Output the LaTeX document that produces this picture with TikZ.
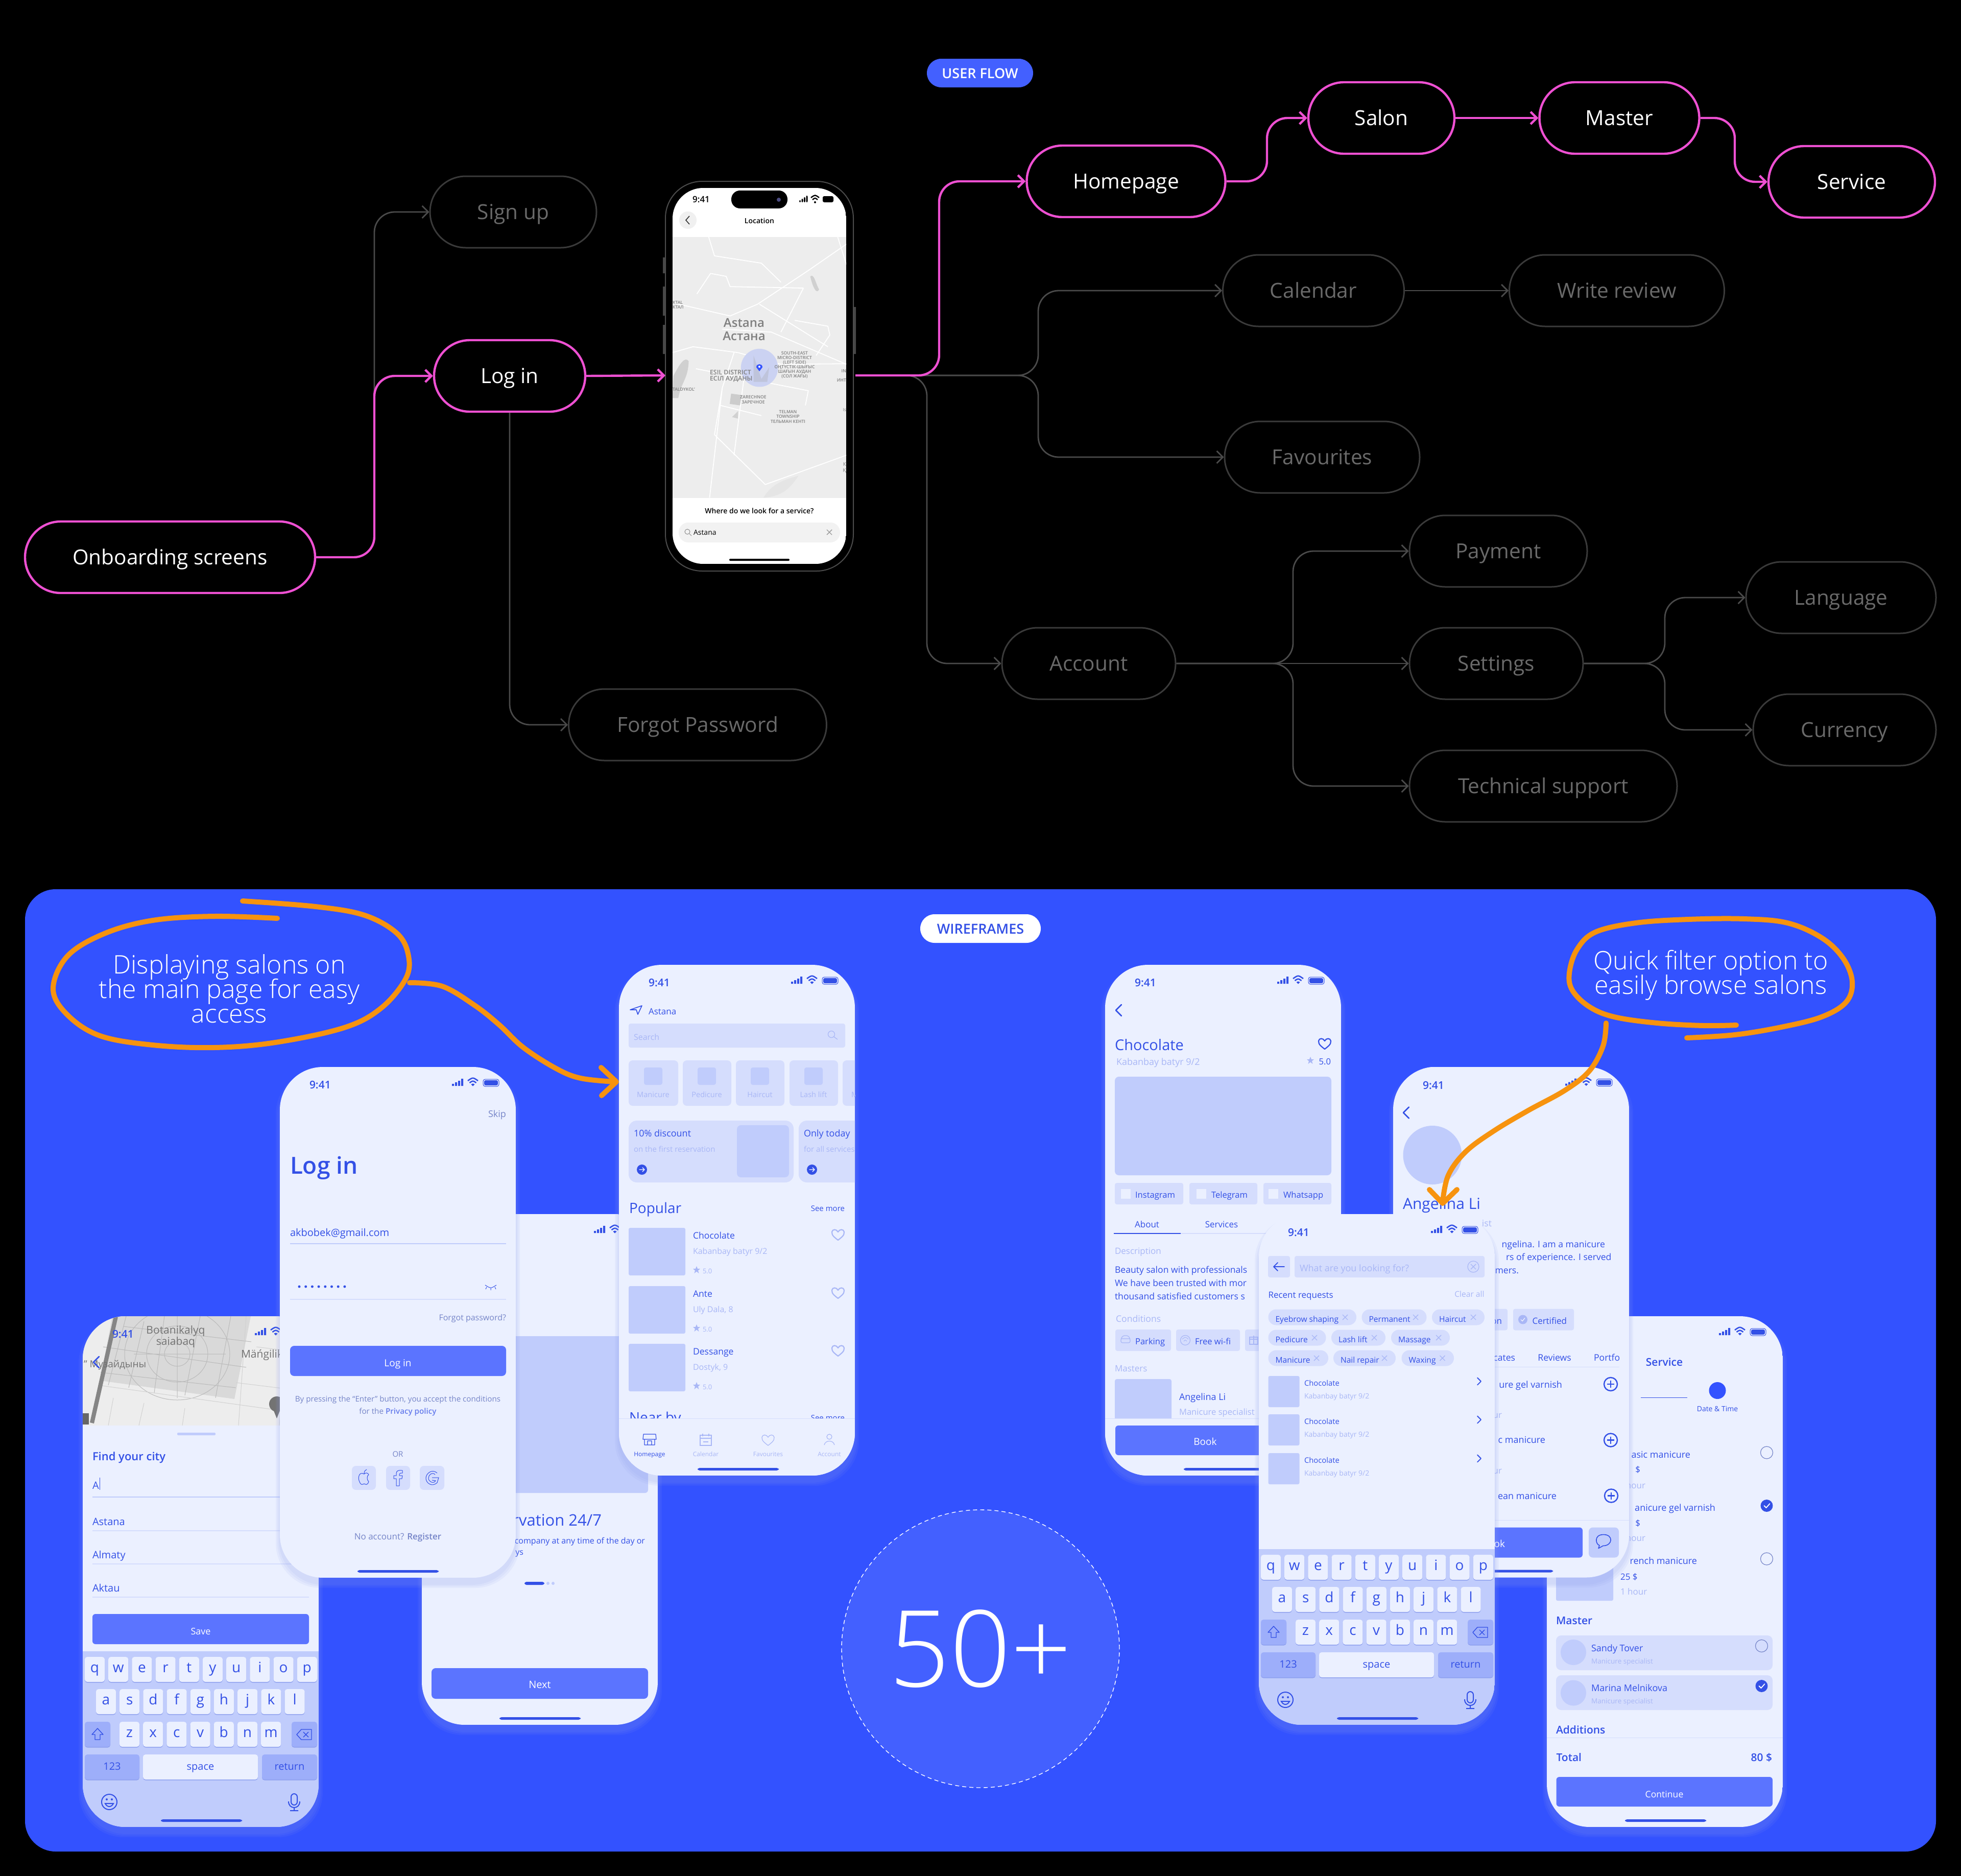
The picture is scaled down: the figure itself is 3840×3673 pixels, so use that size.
\documentclass[tikz,border=0pt]{standalone}
\usepackage{fontspec}
\setmainfont{Open Sans}[BoldFont={Open Sans Semibold}]
\newfontfamily\lightf{Open Sans Light}
\newfontfamily\medf{Open Sans}
\usetikzlibrary{arrows.meta}
\definecolor{panel}{HTML}{3352FF}
\definecolor{scr}{HTML}{EBF0FF}
\definecolor{chipc}{HTML}{D5DDFD}
\definecolor{thumbc}{HTML}{C0CCFC}
\definecolor{btn}{HTML}{5B74FF}
\definecolor{ink}{HTML}{3350E6}
\definecolor{dimc}{HTML}{A9B7F6}
\definecolor{graytxt}{HTML}{7685C8}
\definecolor{pinkline}{HTML}{EE50D2}
\definecolor{grayline}{HTML}{4A4A4A}
\definecolor{graynode}{HTML}{3A3A3A}
\definecolor{graytext}{HTML}{6A6A6A}
\definecolor{ornge}{HTML}{F7930E}
\definecolor{keydark}{HTML}{9DAEFA}
\definecolor{keyedge}{HTML}{8C9EEE}
\definecolor{maptxt}{HTML}{808080}
\definecolor{mapring}{HTML}{CBD2F2}
\definecolor{mapwater}{HTML}{D0D0D0}
\tikzset{
 flowbase/.style={rectangle,rounded corners=35pt,minimum height=70pt,inner sep=0pt,text height=14.5pt,text depth=0pt,font=\medf\fontsize{20.3}{24}\selectfont},
 pinknode/.style={flowbase,draw=pinkline,line width=2.2pt,text=white,minimum width=#1*0.5pt},
 graybox/.style={flowbase,draw=graynode,line width=1.5pt,text=graytext,minimum width=#1*0.5pt},
 pinkarrow/.style={draw=pinkline,line width=2.2pt,rounded corners=20pt,-{Straight Barb[length=6pt,width=12pt,line width=2.2pt]}},
 grayarrow/.style={draw=grayline,line width=1.4pt,rounded corners=20pt,-{Straight Barb[length=6pt,width=12pt,line width=1.4pt]}},
 pencil/.style={draw=ornge,line width=5pt,line cap=round,line join=round},
}
\newcounter{nn}
\newcommand\lab[6][mid west]{\stepcounter{nn}\node[anchor=#1,inner sep=0pt,outer sep=0pt,text=#5] (n\arabic{nn}) at (#2,#3+#4) {\fontsize{#4}{#4}\selectfont #6};}
\newcommand\scropen[2]{\begin{scope}[shift={(#1,#2)}]
 \foreach \s in {8,5,2}{\fill[color=keyedge,opacity=.09,rounded corners=44pt] (-\s,-\s+12) rectangle (462+\s,1000+\s+12);}
 \begin{scope}\clip[rounded corners=42pt] (0,0) rectangle (462,1000);
 \fill[scr] (0,0) rectangle (462,1000);}
\newcommand\scrclose{\end{scope}\end{scope}}
\newcommand\homebar[1][153]{\fill[ink,rounded corners=2pt] (#1,985) rectangle (#1+159,990);}
\newcommand\sbar[1][ink]{%
 \fill[#1] (337,33) rectangle (341,37) (343,30) rectangle (347,37) (349,27) rectangle (353,37) (355,23) rectangle (359,37);
 \draw[#1,line width=1.3pt] (368,27) .. controls (378,20) .. (388,27) (371.5,31) .. controls (378,26.5) .. (384.5,31);
 \fill[#1] (378,37.5) -- (374.5,34) .. controls (378,32) .. (381.5,34) -- cycle;
 \draw[#1,line width=.5pt,rounded corners=2pt] (398,24) rectangle (429,38);
 \fill[#1,rounded corners=1.5pt] (400,26) rectangle (427,36);
}
\newcommand\timelab[1][]{\lab[mid west]{58}{27}{10.5}{ink}{\bfseries 9:41}}
\newcommand\chevl[3]{\draw[#3,line width=1.3pt,line cap=round,line join=round] (#1+6,#2-11) -- (#1-5,#2) -- (#1+6,#2+11);}
\newcommand\chevr[3]{\draw[#3,line width=.9pt,line cap=round,line join=round] (#1-3,#2-7) -- (#1+4,#2) -- (#1-3,#2+7);}
\newcommand\hearticon[4][1.1pt]{\begin{scope}[shift={(#2,#3)}]\draw[#4,line width=#1,line join=round] (0,11) .. controls (-5,7) and (-13,2) .. (-12,-5) .. controls (-11,-11) and (-3,-11) .. (0,-5) .. controls (3,-11) and (11,-11) .. (12,-5) .. controls (13,2) and (5,7) .. (0,11) -- cycle;\end{scope}}
\newcommand\staricon[3]{\begin{scope}[shift={(#1,#2)}]\fill[#3] (0,-7)--(2,-2)--(7,-2)--(3,1.5)--(4.5,7)--(0,3.5)--(-4.5,7)--(-3,1.5)--(-7,-2)--(-2,-2)--cycle;\end{scope}}
\newcommand\xicon[3]{\draw[#3,line width=.7pt] (#1-5,#2-5) -- (#1+5,#2+5) (#1-5,#2+5) -- (#1+5,#2-5);}
\newcommand\pluscirc[2]{\draw[ink,line width=1.2pt] (#1,#2) circle[radius=13]; \draw[ink,line width=1.2pt] (#1-7,#2) -- (#1+7,#2) (#1,#2-7) -- (#1,#2+7);}
\newcommand\radio[2]{\draw[graytxt,line width=.6pt] (#1,#2) circle[radius=12];}
\newcommand\radiock[2]{\fill[ink] (#1,#2) circle[radius=12]; \draw[white,line width=.9pt,line cap=round,line join=round] (#1-5,#2) -- (#1-1,#2+4) -- (#1+6,#2-4);}
\newcommand\arrowcirc[2]{\fill[ink] (#1,#2) circle[radius=10]; \draw[white,line width=.6pt,line cap=round,line join=round] (#1-5,#2) -- (#1+5,#2) (#1+1,#2-4) -- (#1+5,#2) -- (#1+1,#2+4);}
\newcommand\kbkey[6]{\fill[keyedge,rounded corners=2.5pt] (#1,#2+1.5) rectangle (#1+#3,#2+50.5);
 \fill[#4,rounded corners=2.5pt] (#1,#2) rectangle (#1+#3,#2+49);
 \lab[mid]{#1+#3/2}{#2+#5}{#6}}
\newcommand\kb{%
 \fill[thumbc] (0,656) rectangle (462,1000);
 \foreach \k [count=\i from 0] in {q,w,e,r,t,y,u,i,o,p}{\pgfmathsetmacro\xx{4+46.2*\i}\kbkey{\xx}{667}{39}{scr}{11}{14}{ink}{\k}}
 \foreach \k [count=\i from 0] in {a,s,d,f,g,h,j,k,l}{\pgfmathsetmacro\xx{26+46.2*\i}\kbkey{\xx}{730}{39}{scr}{11}{14}{ink}{\k}}
 \foreach \k [count=\i from 0] in {z,x,c,v,b,n,m}{\pgfmathsetmacro\xx{72+46.2*\i}\kbkey{\xx}{794}{39}{scr}{11}{14}{ink}{\k}}
 \fill[keyedge,rounded corners=2.5pt] (4,795.5) rectangle (54,844.5); \fill[keydark,rounded corners=2.5pt] (4,794) rectangle (54,843);
 \draw[ink,line width=.7pt,line join=round] (29,807) -- (18,819) -- (24,819) -- (24,829) -- (34,829) -- (34,819) -- (40,819) -- cycle;
 \fill[keyedge,rounded corners=2.5pt] (409,795.5) rectangle (459,844.5); \fill[keydark,rounded corners=2.5pt] (409,794) rectangle (459,843);
 \draw[ink,line width=.7pt,line join=round] (419,819) -- (428,809) -- (448,809) -- (448,829) -- (428,829) -- cycle (432,814) -- (442,824) (442,814) -- (432,824);
 \kbkey{4}{858}{107}{keydark}{15}{10}{ink}{123}
 \kbkey{118}{858}{225}{scr}{15}{10}{ink}{space}
 \kbkey{351}{858}{108}{keydark}{15}{10}{ink}{return}
 \draw[ink,line width=1pt] (52,951) circle[radius=15];
 \fill[ink] (47,946) circle[radius=2] (57,946) circle[radius=2];
 \draw[ink,line width=1pt] (44,954) .. controls (48,962) and (56,962) .. (60,954) -- cycle;
 \draw[ink,line width=1pt,rounded corners=3pt] (408,935) rectangle (420,957);
 \draw[ink,line width=1pt] (403,950) .. controls (403,966) and (425,966) .. (425,950) (414,961) -- (414,968) (406,968) -- (422,968);
 \homebar
}
\begin{document}
\begin{tikzpicture}[x=0.5pt,y=-0.5pt]
\useasboundingbox (0,0) rectangle (3840,3673);
\fill[black] (0,0) rectangle (3840,3673);

%% ---------- USER FLOW ----------
\node[fill=panel!92!white,rounded corners=14pt,minimum width=104pt,minimum height=28pt,inner sep=0pt,text=white,text height=10pt,text depth=0pt,font=\fontsize{13.5}{14}\selectfont\bfseries] (userflow) at (1919,143) {USER FLOW};

\node[pinknode=568] (onb) at (333,1091) {Onboarding screens};
\node[pinknode=296] (login) at (998,736) {Log in};
\node[graybox=326] (signup) at (1005,415) {Sign up};
\node[graybox=505] (forgot) at (1366,1419) {Forgot Password};
\node[pinknode=389] (home) at (2205,355) {Homepage};
\node[pinknode=286] (salon) at (2705,231) {Salon};
\node[pinknode=313] (master) at (3171,231) {Master};
\node[pinknode=326] (service) at (3626,356) {Service};
\node[graybox=355] (calendar) at (2572,569) {Calendar};
\node[graybox=421] (write) at (3166,569) {Write review};
\node[graybox=382] (fav) at (2589,895) {Favourites};
\node[graybox=340] (account) at (2132,1299) {Account};
\node[graybox=348] (payment) at (2934,1079) {Payment};
\node[graybox=340] (settings) at (2930,1299) {Settings};
\node[graybox=524] (tech) at (3022,1539) {Technical support};
\node[graybox=372] (lang) at (3605,1170) {Language};
\node[graybox=358] (cur) at (3612,1429) {Currency};

%% phone
\coordinate (phoneW) at (1303,735);
\coordinate (phoneE) at (1675,735);
\fill[color=black!72!white] (1298,504) rectangle (1304,535) (1298,561) rectangle (1304,618) (1298,636) rectangle (1304,693) (1670,601) rectangle (1676,693);
\fill[black,draw=black!70!white,line width=1pt,rounded corners=36pt] (1303,355) rectangle (1671,1118);
\begin{scope}
 \clip[rounded corners=30pt] (1317,368) rectangle (1657,1104);
 \fill[white] (1317,368) rectangle (1657,1104);
 \fill[color=black!7!white] (1317,464) rectangle (1657,975);
 \begin{scope}[shift={(1200,300)},x=0.1914pt,y=-0.287pt]
  \draw[white,line width=.9pt,line join=round]
   (305,510)--(600,555)--(740,515)--(1000,400)--(1195,310)
   (490,285)--(520,350)--(760,375)--(860,440)
   (305,680)--(410,660)--(640,680)--(860,720)--(1195,718)
   (560,600)--(810,610)--(1195,720)
   (750,515)--(1100,660)
   (495,1175)--(560,800)--(620,680)
   (520,960)--(780,1130)--(1195,1030)
   (620,1030)--(680,720)
   (430,480)--(500,410)--(580,420)--(600,455)--(975,460)
   (425,735)--(1000,810)--(985,860)
   (550,860)--(760,895)
   (1150,285)--(1195,380)
   (520,960)--(560,800)
   (930,570)--(1100,590)--(1110,620)--(1040,690)
   (975,460)--(860,610);
  \fill[mapwater] (310,760) .. controls (340,720) and (370,690) .. (388,710) .. controls (385,770) and (350,780) .. (335,835) -- (305,835) -- cycle;
  \fill[mapwater] (1010,420) .. controls (1030,410) and (1035,440) .. (1055,465) .. controls (1040,485) and (1020,450) .. (1010,420) -- cycle;
  \fill[color=black!20!white] (605,820) -- (660,825) -- (650,860) -- (598,855) -- cycle;
  \fill[color=black!18!white] (610,900) -- (640,880) -- (640,905) -- cycle;
  \fill[color=black!10!white] (770,1175) .. controls (820,1120) and (900,1110) .. (950,1100) .. controls (900,1150) and (860,1170) .. (770,1175) -- cycle;
  \fill[mapring] (750,732) circle[x radius=95,y radius=65];
  \fill[color=black!35!white,opacity=.3] (720,690) -- (760,770) -- (800,730) -- (790,780) -- (720,780) -- cycle;
 \end{scope}
 \fill[panel] (1487,727) -- (1481,719) .. controls (1481,711) and (1493,711) .. (1493,719) -- cycle;
 \fill[white] (1487,718) circle[radius=2];
 \lab[mid]{1457}{623}{12}{maptxt}{\bfseries Astana}
 \lab[mid]{1457}{649}{12}{maptxt}{\bfseries Астана}
 \lab{1390}{722}{6.2}{maptxt}{\bfseries ESIL DISTRICT}
 \lab{1390}{733.5}{6.2}{maptxt}{\bfseries ЕСІЛ АУДАНЫ}
 \lab[mid]{1556}{685}{4.3}{maptxt}{\bfseries SOUTH-EAST}
 \lab[mid]{1556}{694}{4.3}{maptxt}{\bfseries MICRO-DISTRICT}
 \lab[mid]{1556}{703}{4.3}{maptxt}{\bfseries (LEFT SIDE)}
 \lab[mid]{1556}{712}{4.3}{maptxt}{\bfseries ОҢТҮСТІК-ШЫҒЫС}
 \lab[mid]{1556}{721}{4.3}{maptxt}{\bfseries ШАҒЫН АУДАН}
 \lab[mid]{1556}{730}{4.3}{maptxt}{\bfseries (СОЛ ЖАҒЫ)}
 \lab[mid]{1475}{771}{4.3}{maptxt}{\bfseries ZARECHNOE}
 \lab[mid]{1475}{780.5}{4.3}{maptxt}{\bfseries ЗАРЕЧНОЕ}
 \lab[mid]{1543}{800}{4.3}{maptxt}{\bfseries TELMAN}
 \lab[mid]{1543}{809}{4.3}{maptxt}{\bfseries TOWNSHIP}
 \lab[mid]{1543}{818.5}{4.3}{maptxt}{\bfseries ТЕЛЬМАН КЕНТІ}
 \lab{1317}{586}{4.3}{maptxt}{\bfseries KTAL}
 \lab{1317}{595}{4.3}{maptxt}{\bfseries КТАЛ}
 \lab{1317}{756}{4.3}{maptxt}{\bfseries TALDYKOL'}
 \lab[mid east]{1657}{720}{4.3}{maptxt}{\bfseries IN}
 \lab[mid east]{1657}{738}{4.3}{maptxt}{\bfseries ИНТ}
 \lab[mid east]{1657}{796}{4.3}{maptxt}{Is}
 \lab[mid east]{1657}{902}{5}{maptxt}{К}
 \lab[mid east]{1657}{914}{5}{maptxt}{Қ}
 \fill[black,rounded corners=8.5pt] (1432,373) rectangle (1542,408);
 \fill[color=black!70!blue!70!white] (1525,391) circle[radius=4];
 \fill[black,rounded corners=1pt] (1565,392) rectangle (1568,396) (1569.5,389) rectangle (1572.5,396) (1574,386) rectangle (1577,396) (1578.5,383) rectangle (1581.5,396);
 \draw[black,line width=1.2pt] (1588,387) .. controls (1596,381) .. (1604,387) (1591,391) .. controls (1596,387) .. (1601,391);
 \fill[black] (1596,396) circle[radius=2];
 \fill[black,rounded corners=1.5pt] (1611,384) rectangle (1632,396);
 \lab[mid]{1373}{383}{8.5}{black}{\bfseries 9:41}
 \fill[color=black!6!white] (1347,431) circle[radius=17];
 \draw[black!80!white,line width=.8pt] (1350,423) -- (1343,431) -- (1350,439);
 \lab[mid]{1487}{425}{7}{black}{\bfseries Location}
 \lab[mid]{1487}{993}{7}{black}{\bfseries Where do we look for a service?}
 \fill[color=black!5!white,rounded corners=9.5pt] (1329,1023) rectangle (1645,1062);
 \draw[color=black!45!white,line width=.5pt] (1346,1041) circle[radius=5] (1350,1045) -- (1354,1049);
 \lab{1358}{1035}{7}{black}{Astana}
 \xicon{1624}{1042}{black!40!white}
 \fill[black,rounded corners=1pt] (1428,1094) rectangle (1546,1098);
\end{scope}

%% connectors gray first
\coordinate (bA) at (733,0);
\coordinate (bB) at (1815,0);
\coordinate (bC) at (2033,0);
\coordinate (bD) at (2532,0);
\coordinate (bE) at (3260,0);
\coordinate (bF) at (1839,0);
\coordinate (bG) at (2481,0);
\coordinate (bH) at (3397,0);
\draw[grayarrow] (onb.east) -| (bA|-signup) -- (signup.west);
\draw[grayarrow] (login.south) |- (forgot.west);
\draw[grayarrow] (phoneE) -| (bC|-calendar) -- (calendar.west);
\draw[grayarrow] (phoneE) -| (bC|-fav) -- (fav.west);
\draw[grayarrow] (phoneE) -| (bB|-account) -- (account.west);
\draw[grayarrow] (calendar.east) -- (write.west);
\draw[grayarrow] (account.east) -| (bD|-payment) -- (payment.west);
\draw[grayarrow] (account.east) -- (settings.west);
\draw[grayarrow] (account.east) -| (bD|-tech) -- (tech.west);
\draw[grayarrow] (settings.east) -| (bE|-lang) -- (lang.west);
\draw[grayarrow] (settings.east) -| (bE|-cur) -- (cur.west);
%% pink
\draw[pinkarrow] (onb.east) -| (bA|-login) -- (login.west);
\draw[pinkarrow] (login.east) -- (phoneW);
\draw[pinkarrow] (phoneE) -| (bF|-home) -- (home.west);
\draw[pinkarrow] (home.east) -| (bG|-salon) -- (salon.west);
\draw[pinkarrow] (salon.east) -- (master.west);
\draw[pinkarrow] (master.east) -| (bH|-service) -- (service.west);

%% ---------- WIREFRAMES ----------
\fill[panel,rounded corners=30pt] (49,1741) rectangle (3791,3625);
\node[fill=white,rounded corners=14pt,minimum width=118pt,minimum height=28pt,inner sep=0pt,text=ink,text height=10pt,text depth=0pt,font=\fontsize{13.5}{14}\selectfont\bfseries] (wire) at (1920,1818) {WIREFRAMES};

%% city screen
\scropen{162}{2577}
 \begin{scope}
  \clip (0,0) rectangle (462,214);
  \fill[color=black!7!white] (0,0) rectangle (462,214);
  \fill[color=black!15!white] (58,0) -- (329,0) -- (297,162) -- (34,126) -- cycle;
  \draw[color=black!27!white,line width=.5pt] (185,74) circle[x radius=103,y radius=90] (185,74) circle[x radius=60,y radius=55] (185,74) circle[x radius=25,y radius=24];
  \draw[color=black!27!white,line width=.5pt] (85,0) -- (50,135) (120,10) -- (90,140) (160,0) -- (140,150) (230,0) -- (200,155) (290,0) -- (260,160) (40,60) -- (320,100) (35,110) -- (300,140) (80,20) -- (330,50) (100,74) -- (280,74) (185,-10) -- (185,160);
  \draw[color=black!18!white,line width=.5pt] (30,135) -- (462,195) (60,160) -- (50,214) (120,170) -- (110,214) (200,180) -- (195,214) (320,0) -- (305,214) (340,60) -- (462,75) (400,0) -- (385,214) (300,130) -- (462,150);
  \fill[color=black!48!white] (62,-5) -- (70,-3) -- (22,210) -- (14,208) -- cycle;
  \fill[color=black!55!white] (380,172) circle[radius=15];
  \fill[color=black!55!white] (372,180) -- (388,180) -- (380,200) -- cycle;
  \fill[color=black!60!white] (0,190) rectangle (12,212);
 \end{scope}
 \lab[mid]{182}{19}{10.5}{black!55!white}{Botanikalyq}
 \lab[mid]{182}{41}{10.5}{black!55!white}{saiabaq}
 \lab{310}{66}{10.5}{black!55!white}{Mäńgilik}
 \lab{2}{86}{9.5}{black!55!white}{" Музайдыны}
 \chevl{26}{90}{ink}
 \timelab \sbar
 \fill[scr] (0,214) rectangle (462,660);
 \fill[thumbc,rounded corners=1pt] (185,228) rectangle (260,233);
 \lab{19}{266}{11}{ink}{\bfseries Find your city}
 \lab{19}{323}{10}{ink}{A}
 \draw[ink,line width=.5pt] (33,316) -- (33,340);
 \draw[thumbc,line width=1pt] (19,354) -- (443,354);
 \lab{19}{394}{10}{ink}{Astana}
 \draw[chipc,line width=1pt] (19,420) -- (443,420);
 \lab{19}{459}{10}{ink}{Almaty}
 \draw[chipc,line width=1pt] (19,485) -- (443,485);
 \lab{19}{524}{10}{ink}{Aktau}
 \draw[chipc,line width=1pt] (19,550) -- (443,550);
 \fill[btn,rounded corners=3pt] (19,583) rectangle (443,642);
 \lab[mid]{231}{609}{9}{white}{Save}
 \kb
\scrclose

%% onboarding screen
\scropen{826}{2377}
 \sbar
 \fill[thumbc,rounded corners=3pt] (19,239) rectangle (443,546);
 \lab[mid east]{352}{590}{15.5}{ink}{Reservation 24/7}
 \lab[mid east]{437}{632}{8}{ink}{company at any time of the day or}
 \lab[mid east]{199}{654}{8}{ink}{ys}
 \fill[ink,rounded corners=2pt] (201,720) rectangle (240,726);
 \fill[thumbc] (247,723) circle[radius=3] (257,723) circle[radius=3];
 \fill[btn,rounded corners=4pt] (19,889) rectangle (443,949);
 \lab[mid]{231}{913}{10}{white}{Next}
 \homebar[152]
\scrclose

%% login screen
\scropen{548}{2089}
 \timelab \sbar
 \lab[mid east]{443}{84}{9}{graytxt}{Skip}
 \lab{20}{181.5}{23}{ink}{\bfseries Log in}
 \lab{20}{316}{10}{ink}{akbobek@gmail.com}
 \draw[thumbc,line width=1pt] (20,346) -- (443,346);
 \foreach \i in {0,...,7}{\fill[ink] (38+12.7*\i,430) circle[radius=2.5];}
 \draw[ink,line width=.5pt] (402,427) .. controls (413,434) .. (424,427) (405,431) -- (403,435) (413,433) -- (413,437) (421,431) -- (423,435);
 \draw[chipc,line width=1pt] (20,455) -- (443,455);
 \lab[mid east]{443}{483}{8}{graytxt}{Forgot password?}
 \fill[btn,rounded corners=4pt] (20,546) rectangle (443,605);
 \lab[mid]{231}{572}{9.5}{white}{Log in}
 \lab[mid]{231}{643}{7.6}{graytxt}{By pressing the “Enter” button, you accept the conditions}
 \lab[mid]{231}{667}{7.6}{graytxt}{for the {\bfseries\color{ink!75!white}Privacy policy}}
 \lab[mid]{231}{751}{7.5}{graytxt}{OR}
 \fill[chipc,rounded corners=4pt] (141,781) rectangle (188,828) (208,781) rectangle (255,828) (274,781) rectangle (322,828);
 \draw[ink,line width=.5pt,line join=round] (165,797) .. controls (155,791) and (152,805) .. (156,812) .. controls (159,820) and (162,817) .. (165,816) .. controls (168,817) and (171,820) .. (174,812) .. controls (170,808) and (170,801) .. (174,798) .. controls (171,793) and (167,795) .. (165,797) -- cycle (165,796) .. controls (165,792) and (167,789) .. (170,788);
 \draw[ink,line width=.5pt,line join=round] (228,820) -- (228,806) -- (223,806) -- (223,800) -- (228,800) -- (228,796) .. controls (228,790) and (233,789) .. (240,790) -- (240,795) .. controls (236,795) and (234,795) .. (234,798) -- (234,800) -- (240,800) -- (239,806) -- (234,806) -- (234,820) -- cycle;
 \draw[ink,line width=.5pt] (308,795) .. controls (298,786) and (286,796) .. (286,805) .. controls (286,815) and (298,823) .. (308,814) -- (311,804) -- (298,804) (304,798) .. controls (298,792) and (291,799) .. (291,805) .. controls (291,812) and (301,817) .. (305,810) -- (298,809);
 \lab[mid]{231}{912}{8.5}{graytxt}{No account? {\bfseries Register}}
 \homebar[152]
\scrclose

%% homepage screen
\scropen{1212}{1889}
 \timelab \sbar
 \draw[ink,line width=.8pt,line join=round] (22,88) -- (45,80) -- (37,97) -- (34,88) -- cycle;
 \lab{58}{84}{8.5}{ink}{Astana}
 \fill[chipc,rounded corners=2pt] (19,115) rectangle (443,162);
 \lab{29}{134}{8}{dimc}{Search}
 \draw[dimc,line width=.6pt] (416,136) circle[radius=6.5] (421,141) -- (428,146);
 \foreach \a/\b/\c/\t in {19/116/67/Manicure,125/220/172/Pedicure,229/324/276/Haircut,334/429/381/Lash lift,438/535/485/Massage}{
  \fill[chipc,rounded corners=4pt] (\a,187) rectangle (\b,276);
  \fill[thumbc,rounded corners=2pt] (\c-18,201) rectangle (\c+18,235);
  \lab[mid]{\c}{247}{7.3}{dimc}{\t}}
 \fill[chipc,rounded corners=8pt] (19,305) rectangle (342,426);
 \fill[thumbc,rounded corners=4pt] (231,314) rectangle (333,416);
 \lab{29}{322}{9}{ink}{10\% discount}
 \lab{29}{354}{7.5}{dimc}{on the first reservation}
 \arrowcirc{45}{401}
 \fill[chipc,rounded corners=8pt] (352,305) rectangle (560,426);
 \lab{362}{322}{9}{ink}{Only today}
 \lab{362}{354}{7.5}{dimc}{for all services}
 \arrowcirc{378}{401}
 \lab{20}{467}{14}{ink}{Popular}
 \lab[mid east]{442}{470}{7.5}{ink}{See more}
 \foreach \y/\n/\ad in {515/Chocolate/Kabanbay batyr 9\slash 2,629/Ante/{Uly Dala, 8},742/Dessange/{Dostyk, 9}}{
  \fill[thumbc,rounded corners=1.5pt] (19,\y) rectangle (130,\y+93);
  \lab{145}{\y+7.5}{8.8}{ink}{\n}
  \lab{145}{\y+38}{8}{dimc}{\ad}
  \staricon{152}{\y+82}{dimc}
  \lab{164}{\y+78}{6.5}{dimc}{5.0}
  \hearticon{429}{\y+13}{dimc}}
 \lab{20}{877}{14}{ink}{Near by}
 \lab[mid east]{442}{880}{7.5}{ink}{See more}
 \fill[scr] (0,888) rectangle (462,1000);
 \draw[chipc,line width=.5pt] (0,888) -- (462,888);
 \draw[ink,line width=.6pt,line join=round] (48,919) -- (72,919) -- (73,929) -- (47,929) -- cycle (50,929) -- (50,940) -- (70,940) -- (70,929) (56,940) -- (56,932) -- (64,932) -- (64,940);
 \lab[mid]{60}{951}{6}{ink}{Homepage}
 \draw[dimc,line width=.6pt] (159,921) rectangle (181,941) (159,927) -- (181,927) (164,918) -- (164,923) (176,918) -- (176,923) (165,934) -- (175,934);
 \lab[mid]{170}{951}{6}{dimc}{Calendar}
 \hearticon[.6pt]{292}{930}{dimc}
 \lab[mid]{292}{951}{6}{dimc}{Favourites}
 \draw[dimc,line width=.6pt] (412,924) circle[radius=5] (402,940) .. controls (404,930) and (420,930) .. (422,940);
 \lab[mid]{412}{951}{6}{dimc}{Account}
 \homebar[154]
\scrclose

%% service screen
\scropen{3029}{2577}
 \sbar
 \lab[mid]{230}{82}{10.5}{ink}{\bfseries Service}
 \draw[ink,line width=.5pt] (184,159) -- (275,159);
 \fill[panel] (334,145.5) circle[radius=16.5];
 \lab[mid]{334}{174}{7}{ink}{Date \& Time}
 \fill[thumbc,rounded corners=1.5pt] (18,460) rectangle (130,557);
 \lab[mid east]{281}{263}{9}{ink}{asic manicure}
 \lab[mid east]{183}{293}{8.5}{ink}{\$}
 \lab[mid east]{193}{324}{8.5}{dimc}{hour}
 \lab[mid east]{330}{367}{9}{ink}{anicure gel varnish}
 \lab[mid east]{183}{398}{8.5}{ink}{\$}
 \lab[mid east]{193}{427}{8.5}{dimc}{hour}
 \lab[mid east]{294}{471}{9}{ink}{rench manicure}
 \lab{144}{503}{8.5}{ink}{25 \$}
 \lab{144}{532}{8.5}{dimc}{1 hour}
 \radio{430.5}{267} \radiock{430.5}{371} \radio{430.5}{475}
 \lab{18}{588}{10.5}{ink}{\bfseries Master}
 \fill[chipc,rounded corners=5pt] (18,625) rectangle (442,693) (18,703) rectangle (442,771);
 \fill[thumbc] (52,658) circle[radius=25] (52,737.5) circle[radius=25];
 \lab{87}{642}{9}{ink}{Sandy Tover}
 \lab{87}{668}{6.8}{dimc}{Manicure specialist}
 \lab{87}{720}{9}{ink}{Marina Melnikova}
 \lab{87}{746}{6.8}{dimc}{Manicure specialist}
 \radio{420.5}{645.5} \radiock{420.5}{724}
 \lab{18}{802}{10.5}{ink}{\bfseries Additions}
 \draw[chipc,line width=.5pt] (0,825) -- (462,825);
 \lab{18.5}{856}{10.5}{ink}{\bfseries Total}
 \lab[mid east]{441}{856}{10.5}{ink}{\bfseries 80 \$}
 \fill[btn,rounded corners=3pt] (18.5,902) rectangle (442,960);
 \lab[mid]{230}{928}{8.8}{white}{Continue}
 \homebar[153]
\scrclose

%% chocolate screen
\scropen{2164}{1889}
 \timelab \sbar
 \chevl{26}{89}{ink}
 \lab{19}{148}{14.5}{ink}{Chocolate}
 \hearticon{430}{154}{ink}
 \lab{22}{182}{9}{dimc}{Kabanbay batyr 9/2}
 \staricon{402}{187}{dimc}
 \lab[mid east]{442}{182}{8.3}{ink}{5.0}
 \fill[thumbc,rounded corners=4pt] (19,219) rectangle (443,412);
 \foreach \a/\b/\s/\tx/\t in {19/153/31/59/Instagram,165/298/179/208/Telegram,310/443/320/349/Whatsapp}{
  \fill[chipc,rounded corners=2pt] (\a,427) rectangle (\b,469);
  \fill[scr] (\s,439) rectangle (\s+19,458);
  \lab{\tx}{443}{8.3}{ink}{\t}}
 \lab[mid]{82}{501}{8.5}{ink}{About}
 \lab[mid]{228}{501}{8.5}{ink}{Services}
 \draw[chipc,line width=.7pt] (148,526) -- (443,526);
 \draw[ink,line width=.7pt] (17,526) -- (148,526);
 \lab{19}{553}{8.5}{dimc}{Description}
 \lab{19}{589}{8.8}{ink}{Beauty salon with professionals}
 \lab{19}{615}{8.8}{ink}{We have been trusted with mor}
 \lab{19}{641}{8.8}{ink}{thousand satisfied customers s}
 \lab{21}{685}{8.8}{dimc}{Conditions}
 \fill[chipc,rounded corners=2pt] (20,714) rectangle (129,756) (139,714) rectangle (264,756) (274,714) rectangle (330,756);
 \draw[dimc,line width=.6pt,rounded corners=1.5pt] (31,740) -- (31,732) -- (35,726) -- (45,726) -- (49,732) -- (49,740) -- cycle (31,732) -- (49,732);
 \lab{59}{730}{8.3}{ink}{Parking}
 \draw[dimc,line width=.6pt] (157,735) circle[radius=9.5];
 \draw[dimc,line width=.5pt] (151,733) .. controls (157,728) .. (163,733) (154,737) .. controls (157,734) .. (160,737);
 \lab{176}{730}{8.3}{ink}{Free wi-fi}
 \draw[dimc,line width=.6pt] (283,729) rectangle (299,743) (283,733) -- (299,733) (291,726) -- (291,743);
 \lab{19}{783}{8.5}{dimc}{Masters}
 \fill[thumbc,rounded corners=2pt] (19,811) rectangle (130,900);
 \lab{145}{838}{9}{ink}{Angelina Li}
 \lab{145}{868}{8.3}{dimc}{Manicure specialist}
 \fill[scr] (0,888) rectangle (462,1000);
 \draw[chipc,line width=.5pt] (0,888) -- (462,888);
 \fill[btn,rounded corners=3pt] (20,902) rectangle (372,960);
 \lab[mid]{196}{926}{9.5}{white}{Book}
 \homebar[154]
\scrclose

%% master screen
\scropen{2728}{2088.5}
 \lab{58}{28}{10.5}{ink}{\bfseries 9:41}
 \sbar
 \chevl{25}{90}{ink}
 \fill[thumbc] (77,173) circle[radius=57.5];
 \lab{19}{259}{15}{ink}{Angelina Li}
 \lab[mid east]{193}{299}{8.8}{dimc}{ist}
 \lab[mid east]{415}{339.5}{8.8}{ink}{ngelina. I am a manicure}
 \lab[mid east]{427.5}{365}{8.8}{ink}{rs of experience. I served}
 \lab[mid east]{246}{391}{8.8}{ink}{mers.}
 \fill[chipc,rounded corners=2pt] (150,474) rectangle (224,516) (235,474) rectangle (354,516);
 \lab[mid east]{213}{490}{8.5}{ink}{on}
 \fill[dimc] (254,495) circle[radius=9];
 \draw[white,line width=.5pt] (250,495) -- (253,498) -- (258,492);
 \lab{272.5}{490}{8.5}{ink}{Certified}
 \lab[mid east]{239}{562}{8.8}{ink}{cates}
 \lab[mid]{316}{562}{8.8}{ink}{Reviews}
 \begin{scope}\clip (360,545) rectangle (443,590);
  \lab{393}{562}{8.8}{ink}{Portfolio}\end{scope}
 \draw[chipc,line width=.7pt] (190,588) -- (443,588);
 \lab[mid east]{331}{615}{9}{ink}{ure gel varnish}
 \pluscirc{426}{621.5}
 \lab[mid east]{213}{674}{8.5}{dimc}{ur}
 \lab[mid east]{298}{723}{9}{ink}{c manicure}
 \pluscirc{426}{731}
 \lab[mid east]{213}{783.5}{8.5}{dimc}{ur}
 \lab[mid east]{320}{833}{9}{ink}{ean manicure}
 \pluscirc{427}{840}
 \draw[chipc,line width=.5pt] (0,887.5) -- (462,887.5);
 \fill[btn,rounded corners=3pt] (20,902) rectangle (371,961);
 \lab[mid east]{219}{926}{9.5}{white}{ok}
 \fill[thumbc,rounded corners=4pt] (383,902) rectangle (442,961);
 \draw[ink,line width=.8pt,line join=round] (412,916) .. controls (392,916) and (397,936) .. (404,937) -- (402,943) -- (411,938) .. controls (430,938) and (432,916) .. (412,916) -- cycle;
 \homebar[154]
\scrclose

%% search screen
\scropen{2465}{2377}
 \lab{57}{28}{10.5}{ink}{\bfseries 9:41}
 \sbar
 \fill[chipc,rounded corners=2pt] (18,82) rectangle (61,124) (70,82) rectangle (442,124);
 \draw[ink,line width=.9pt,line cap=round,line join=round] (29,103) -- (50,103) (37,95) -- (29,103) -- (37,111);
 \lab{80}{98.5}{9}{dimc}{What are you looking for?}
 \draw[dimc,line width=.6pt] (420,103) circle[radius=11];
 \xicon{420}{103}{dimc}
 \lab{18.5}{151}{8.5}{ink}{Recent requests}
 \lab[mid east]{441.5}{149.5}{7.8}{dimc}{Clear all}
 \foreach \a/\b/\xx/\t/\cy in {18.5/191/169/Eyebrow shaping/202,201.5/328.5/307/Permanent/202,339/442/420/Haircut/202,18.5/131.5/109/Pedicure/242,142/248/226/Lash lift/242,259/374/352/Massage/242,18.5/136/113/Manicure/282,146/268/246/Nail repair/282,279.5/382/359.5/Waxing/282}{
  \fill[chipc,rounded corners=7.7pt] (\a,\cy-15.5) rectangle (\b,\cy+15.5);
  \lab{\a+14}{\cy-4}{7.8}{ink}{\t}
  \xicon{\xx}{\cy}{dimc}}
 \foreach \y in {317,392,468}{
  \fill[thumbc,rounded corners=1.5pt] (18.5,\y) rectangle (79.5,\y+61);
  \lab{89}{\y+6.5}{7.4}{ink}{Chocolate}
  \lab{89}{\y+32}{7}{dimc}{Kabanbay batyr 9/2}
  \chevr{431}{\y+10.5}{ink}}
 \kb
\scrclose

%% 50+
\node[circle,draw=white,dash pattern=on 4pt off 3pt,line width=.7pt,fill=panel!92!white,minimum size=272pt,inner sep=0pt,text=white] (fifty) at (1920,3228) {\lightf\fontsize{104}{104}\selectfont 50+};

%% callouts
\lab[mid]{449}{1876}{25}{white}{\lightf Displaying salons on}
\lab[mid]{449}{1924}{25}{white}{\lightf the main page for easy}
\lab[mid]{449}{1972}{25}{white}{\lightf access}
\draw[pencil] plot[smooth,tension=.6] coordinates {(543,1798) (419,1794) (299,1802) (204,1828) (132,1872) (104,1936) (132,1987) (196,2028) (299,2046) (419,2051) (539,2041) (674,2012) (746,1974) (794,1917) (800,1872) (778,1828) (714,1792) (618,1775) (475,1764)};
\draw[pencil] plot[smooth,tension=.6] coordinates {(802,1924) (866,1931) (929,1968) (977,2006) (1025,2051) (1089,2092) (1137,2111) (1204,2118)};
\draw[pencil] (1177,2090) -- (1207,2118) -- (1178,2145);

\lab[mid]{3350}{1868}{25}{white}{\lightf Quick filter option to}
\lab[mid]{3350}{1916}{25}{white}{\lightf easily browse salons}
\draw[pencil] plot[smooth,tension=.6] coordinates {(3400,2007) (3336,2008) (3245,2003) (3161,1991) (3112,1971) (3079,1939) (3073,1905) (3088,1859) (3124,1825) (3203,1807) (3306,1800) (3415,1799) (3500,1807) (3567,1836) (3609,1876) (3627,1922) (3615,1962) (3567,1991) (3488,2011) (3397,2026) (3303,2032)};
\draw[pencil] plot[smooth,tension=.6] coordinates {(3145,2003) (3139,2048) (3112,2097) (3064,2135) (2991,2175) (2924,2215) (2870,2255) (2836,2301) (2825,2353)};
\draw[pencil] (2799,2329) -- (2825,2356) -- (2853,2329);
\end{tikzpicture}
\end{document}
